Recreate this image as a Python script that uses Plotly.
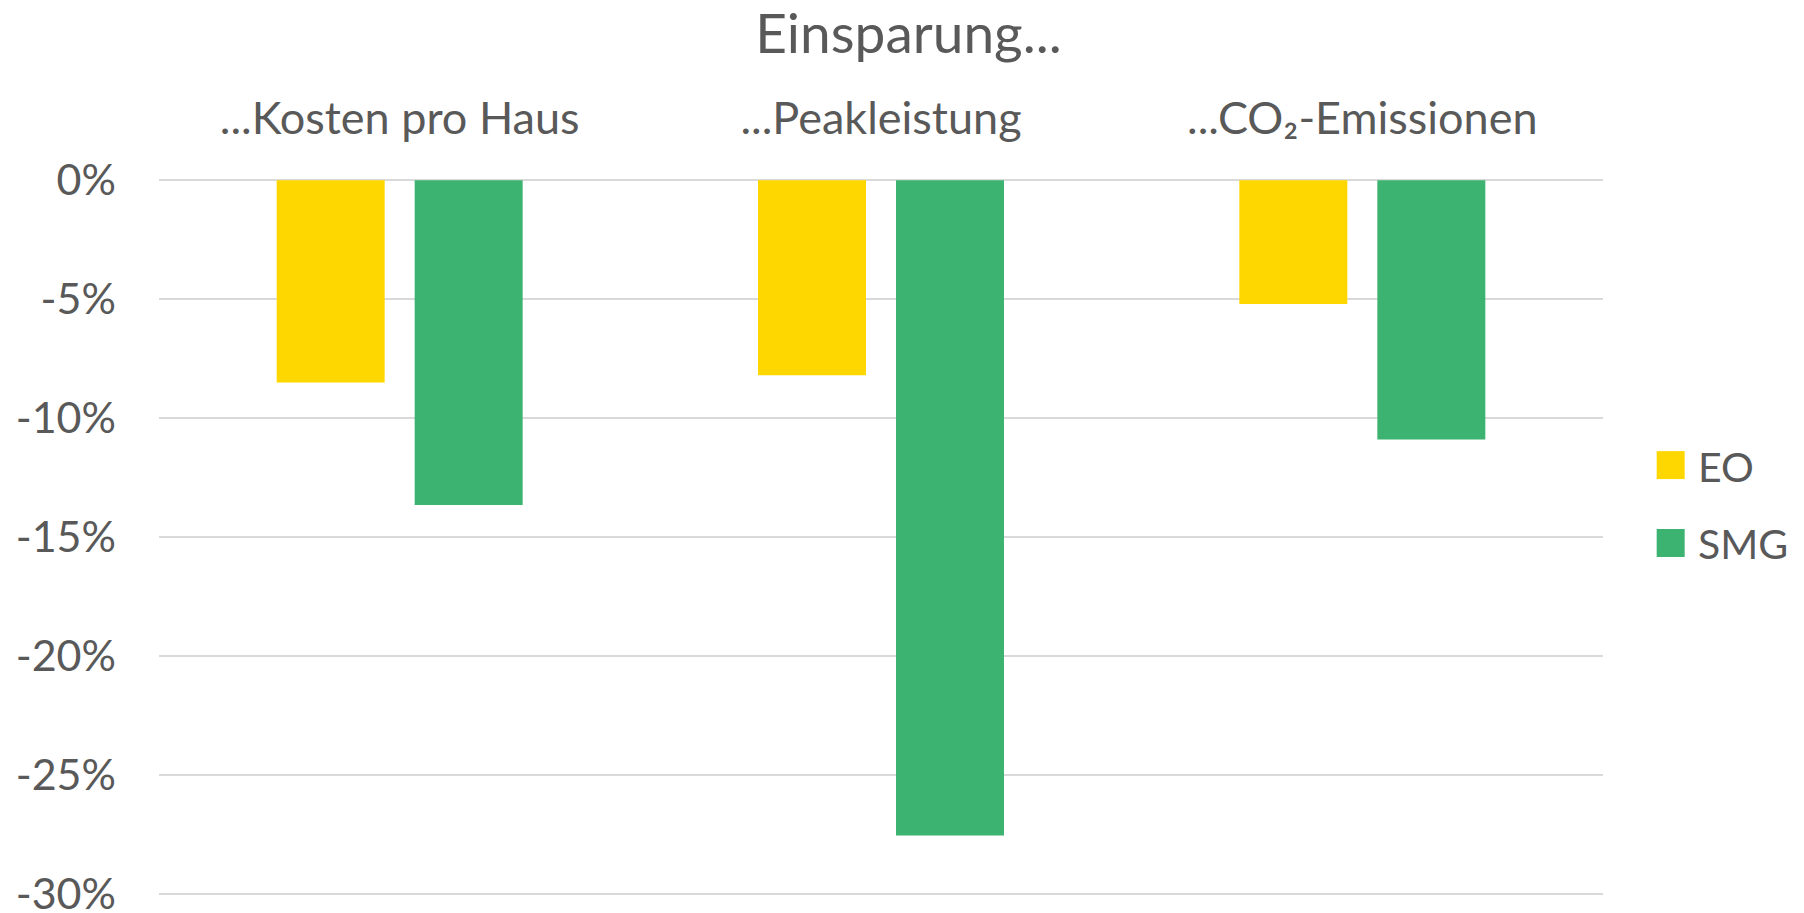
import plotly.graph_objects as go

categories = ["...Kosten pro Haus", "...Peakleistung", "...CO₂-Emissionen"]
series_names = ["EO", "SMG"]
eo_values = [-8.5, -8.2, -5.2]
smg_values = [-13.65, -27.55, -10.9]
series_colors = ["#FFD700", "#3CB371"]
y_ticks = [0, -5, -10, -15, -20, -25, -30]
y_tick_labels = ["0%", "-5%", "-10%", "-15%", "-20%", "-25%", "-30%"]
title_text = "Einsparung..."

FONT = "Lato"
TXT = "#595959"

fig = go.Figure()
for name, vals, col in zip(series_names, [eo_values, smg_values], series_colors):
    fig.add_trace(go.Bar(x=categories, y=vals, name=name, marker=dict(color=col, line=dict(width=0)),
                         showlegend=False))

W, H = 1804, 913
pad = 0.05
ppu = (894.3 - 179.7) / 30.0
plot_left = 158.8
plot_right = 1603.3
plot_top = 179.7 - pad * ppu
plot_bot = 894.3 + pad * ppu
L, R, T, B = plot_left, W - plot_right, plot_top, H - plot_bot
pw = plot_right - plot_left
ph = plot_bot - plot_top

fig.update_layout(
    width=W, height=H,
    margin=dict(l=L, r=R, t=T, b=B, autoexpand=False, pad=0),
    paper_bgcolor="white", plot_bgcolor="white",
    barmode="group", bargap=0.4266, bargroupgap=0.2174,
    font=dict(family=FONT, color=TXT),
    title=dict(text=title_text, x=0.519, xanchor="center", xref="paper",
               y=1 - 34 / H, yanchor="middle", yref="container",
               font=dict(family=FONT, size=55, color=TXT)),
    xaxis=dict(side="top", showgrid=False, showline=False, zeroline=False, ticks="",
               tickfont=dict(family=FONT, size=45, color=TXT), ticklabelstandoff=35),
    yaxis=dict(range=[-30 - pad, pad], tickvals=y_ticks, ticktext=y_tick_labels, showgrid=True,
               gridcolor="#D9D9D9", gridwidth=2, zeroline=True, zerolinecolor="#D9D9D9",
               zerolinewidth=2, showline=False, ticks="", ticklabeloverflow="allow",
               tickfont=dict(family=FONT, size=43, color=TXT), ticklabelstandoff=42),
)

# legend drawn in paper coordinates (positions given in pixels)
def px_to_px(xpx):
    return (xpx - L) / pw

def py_to_py(ypx):
    return (plot_bot - ypx) / ph

sq_left, sq_size = 1657, 28
row_tops = [451, 529]
for name, col, top in zip(series_names, series_colors, row_tops):
    fig.add_shape(type="rect", xref="paper", yref="paper",
                  x0=px_to_px(sq_left), x1=px_to_px(sq_left + sq_size),
                  y0=py_to_py(top + sq_size), y1=py_to_py(top),
                  fillcolor=col, line=dict(width=0))
    fig.add_annotation(text=name, xref="paper", yref="paper", showarrow=False,
                       x=px_to_px(1696), xanchor="left",
                       y=py_to_py(top + sq_size / 2 + 1), yanchor="middle",
                       font=dict(family=FONT, size=41, color=TXT))

fig.write_html("out.html", config={"displayModeBar": False},
               post_script="document.body.style.margin='0px';")
